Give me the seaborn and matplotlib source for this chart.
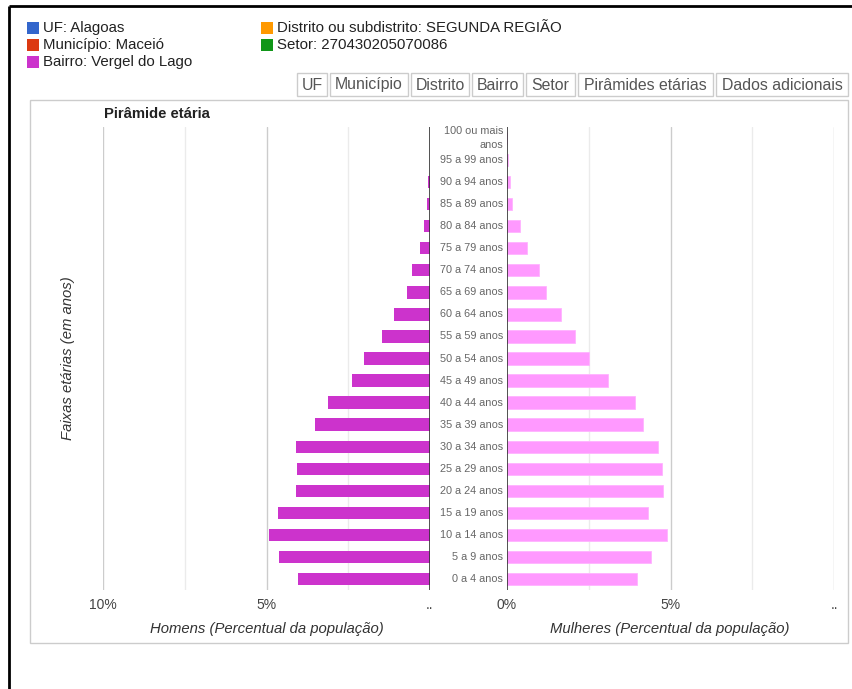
import matplotlib
matplotlib.use("Agg")
import matplotlib.pyplot as plt
import matplotlib.transforms as mtransforms
from matplotlib.patches import Rectangle
import pandas as pd
import seaborn as sns

# Age groups, top to bottom
faixas = [
    "100 ou mais\nanos", "95 a 99 anos", "90 a 94 anos", "85 a 89 anos",
    "80 a 84 anos", "75 a 79 anos", "70 a 74 anos", "65 a 69 anos",
    "60 a 64 anos", "55 a 59 anos", "50 a 54 anos", "45 a 49 anos",
    "40 a 44 anos", "35 a 39 anos", "30 a 34 anos", "25 a 29 anos",
    "20 a 24 anos", "15 a 19 anos", "10 a 14 anos", "5 a 9 anos",
    "0 a 4 anos",
]
# Share of the population (%)
homens = [0.0, 0.0, 0.05, 0.08, 0.18, 0.31, 0.56, 0.69, 1.10, 1.47, 2.02,
          2.39, 3.11, 3.53, 4.11, 4.08, 4.11, 4.66, 4.91, 4.61, 4.03]
mulheres = [0.0, 0.02, 0.10, 0.16, 0.41, 0.61, 0.99, 1.19, 1.66, 2.08, 2.51,
            3.10, 3.90, 4.15, 4.61, 4.74, 4.78, 4.32, 4.90, 4.40, 3.97]

ticks_h = [10, 5, 0]
ticklabels_h = ["10%", "5%", ".."]
ticks_m = [0, 5, 10]
ticklabels_m = ["0%", "5%", ".."]

legend_items = [
    ("UF: Alagoas", "#3366cc", 28, 28),
    ("Município: Maceió", "#dc3912", 28, 45),
    ("Bairro: Vergel do Lago", "#cc33cc", 28, 62),
    ("Distrito ou subdistrito: SEGUNDA REGIÃO", "#ff9900", 262, 28),
    ("Setor: 270430205070086", "#109618", 262, 45),
]
botoes = ["UF", "Município", "Distrito", "Bairro", "Setor",
          "Pirâmides etárias", "Dados adicionais"]
botoes_x = [297, 330, 411, 472, 526, 578, 716, 851]

sns.set_theme(style="white")
plt.rcParams["font.family"] = ["Liberation Sans", "DejaVu Sans"]

W, H = 852, 689
fig = plt.figure(figsize=(W / 100, H / 100), dpi=100)
fig.patch.set_facecolor("white")

# Pixel-space layer for the page furniture
bg = fig.add_axes([0, 0, 1, 1], zorder=-1)
bg.set_xlim(0, W)
bg.set_ylim(H, 0)
bg.axis("off")

# outer black frame
bg.plot([9, W], [6, 6], color="black", lw=2, solid_capstyle="butt")
bg.plot([9, 9], [6, H], color="black", lw=2, solid_capstyle="butt")

# legend
for txt, col, x, y in legend_items:
    bg.add_patch(Rectangle((x - 1, y - 6), 12, 12, facecolor=col, edgecolor="none"))
    bg.text(x + 15, y, txt, fontsize=10.8, color="#222222", va="center", ha="left")

# tab buttons
for i, b in enumerate(botoes):
    x0, x1 = botoes_x[i], botoes_x[i + 1] - 3
    bg.add_patch(Rectangle((x0, 73), x1 - x0, 23, facecolor="white",
                           edgecolor="#cccccc", lw=1))
    bg.text((x0 + x1) / 2, 85, b, fontsize=11.4, color="#555555",
            ha="center", va="center")

# content panel
bg.add_patch(Rectangle((30, 100), 818, 543, facecolor="none",
                       edgecolor="#cccccc", lw=1))

# chart title
bg.text(104, 114, "Pirâmide etária", fontsize=10.7, fontweight="bold",
        color="#222222", ha="left", va="center")

# plot regions (pixels)
top, bottom = 127, 590
axL = fig.add_axes([103 / W, 1 - bottom / H, 327 / W, (bottom - top) / H])
axR = fig.add_axes([507 / W, 1 - bottom / H, 327 / W, (bottom - top) / H])

dfh = pd.DataFrame({"faixa": faixas, "pct": homens})
dfm = pd.DataFrame({"faixa": faixas, "pct": mulheres})

sns.barplot(data=dfh, x="pct", y="faixa", order=faixas, ax=axL,
            color="#cc33cc", saturation=1, width=0.56, edgecolor="none")
sns.barplot(data=dfm, x="pct", y="faixa", order=faixas, ax=axR,
            color="#ff99ff", saturation=1, width=0.56, edgecolor="#ffb3ff",
            linewidth=0.6)

axL.set_xlim(10, 0)
axR.set_xlim(0, 10)

for ax, ticks, labels in ((axL, ticks_h, ticklabels_h), (axR, ticks_m, ticklabels_m)):
    ax.set_facecolor("none")
    ax.set_ylim(len(faixas) - 0.5, -0.5)
    for v in (2.5, 7.5):
        ax.axvline(v, color="#ebebeb", lw=1, zorder=0)
    for v in (5, 10):
        ax.axvline(v, color="#cccccc", lw=1, zorder=0)
    ax.axvline(0, color="#333333", lw=1.2, zorder=3)
    ax.set_xticks(ticks)
    ax.set_xticklabels(labels)
    ax.tick_params(axis="x", length=0, pad=6, labelsize=10, labelcolor="#444444")
    ax.set_yticks([])
    ax.set_xlabel("")
    ax.set_ylabel("")
    for s in ax.spines.values():
        s.set_visible(False)

# age labels between the two halves
trans = mtransforms.blended_transform_factory(axR.transAxes, axR.transData)
for i, f in enumerate(faixas):
    axR.text(-4 / 327, i, f, transform=trans, ha="right", va="center",
             fontsize=7.8, color="#666666", multialignment="right",
             linespacing=1.45)

# axis titles
fig.text(267 / W, 1 - 629 / H, "Homens (Percentual da população)",
         fontsize=10.7, style="italic", color="#333333", ha="center", va="center")
fig.text(670 / W, 1 - 629 / H, "Mulheres (Percentual da população)",
         fontsize=10.7, style="italic", color="#333333", ha="center", va="center")
fig.text(68 / W, 1 - 358 / H, "Faixas etárias (em anos)", rotation=90,
         fontsize=10.7, style="italic", color="#333333", ha="center", va="center")

fig.savefig("out.png", dpi=100)
